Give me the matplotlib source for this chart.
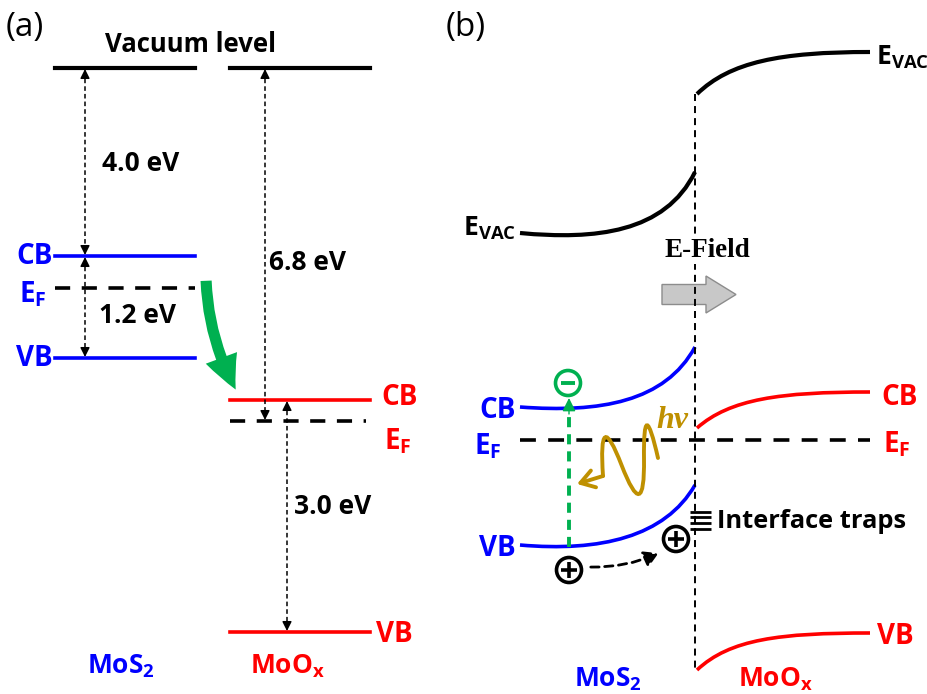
import numpy as np
import matplotlib
matplotlib.use("Agg")
import matplotlib.pyplot as plt
from matplotlib.path import Path
from matplotlib.patches import PathPatch, Circle, FancyArrow, FancyArrowPatch

plt.rcParams['font.family'] = ['Open Sans', 'DejaVu Sans']
plt.rcParams['mathtext.fontset'] = 'custom'
plt.rcParams['mathtext.rm'] = 'Open Sans'
plt.rcParams['mathtext.bf'] = 'Open Sans:bold'

BLUE = '#0000FF'
RED = '#FF0000'
GREEN = '#00B050'
GOLD = '#BF9000'

# ---- panel (a): flat-band levels (pixel rows of the schematic) ----
mos2_x = [55, 195]
moox_x = [230, 370]
mos2_vac, mos2_cb, mos2_ef, mos2_vb = 68, 256, 288, 358
moox_vac, moox_cb, moox_ef, moox_vb = 68, 400, 421, 632

gap_labels = ['4.0 eV', '1.2 eV', '6.8 eV', '3.0 eV']
gap_x = [85, 85, 265, 287]
gap_top = [mos2_vac, mos2_cb, moox_vac, moox_cb]
gap_bot = [mos2_cb, mos2_vb, moox_ef, moox_vb]
gap_text_xy = [(102, 163), (99, 315), (269, 262), (294, 507)]

# ---- panel (b): band bending, cubic bezier control points ----
x_if = 695
bands_b = {
    'mos2_vac': ([(520, 233), (595, 240), (665, 233), (695, 172)], 'black'),
    'moox_vac': ([(697, 94), (730, 62), (780, 52), (870, 52)], 'black'),
    'mos2_cb': ([(520, 407), (600, 413), (665, 402), (695, 347)], BLUE),
    'mos2_vb': ([(520, 545), (600, 552), (665, 537), (695, 485)], BLUE),
    'moox_cb': ([(697, 428), (730, 399), (780, 392), (870, 392)], RED),
    'moox_vb': ([(697, 670), (730, 639), (780, 633), (870, 633)], RED),
}
ef_b = [520, 870, 440]
trap_rows = [512, 517, 523, 529]
# photon squiggle control polygon (quadratic b-spline)
wave_ctrl = [(658, 458), (643, 392), (645, 526), (598, 404), (603, 476)]

fig = plt.figure(figsize=(9.28, 6.94), dpi=100)
ax = fig.add_axes([0, 0, 1, 1])
ax.set_xlim(0, 928)
ax.set_ylim(694, 0)
ax.axis('off')


def bez(pts, color, lw=2.6):
    p = Path(pts, [Path.MOVETO, Path.CURVE4, Path.CURVE4, Path.CURVE4])
    ax.add_patch(PathPatch(p, fill=False, edgecolor=color, lw=lw, capstyle='butt'))


def head(x, y, up):
    d = -8 if up else 8
    ax.annotate('', xy=(x, y), xytext=(x, y - d),
                arrowprops=dict(arrowstyle='-|>', color='k', lw=1, mutation_scale=14,
                                shrinkA=0, shrinkB=0))


# ================= panel (a) =================
ax.text(6, 27, '(a)', fontsize=24, va='center', ha='left')
ax.text(191, 44, 'Vacuum level', fontsize=18.5, fontweight='bold', ha='center', va='center')

ax.plot(mos2_x, [mos2_vac] * 2, color='k', lw=3)
ax.plot(moox_x, [moox_vac] * 2, color='k', lw=3)
ax.plot(mos2_x, [mos2_cb] * 2, color=BLUE, lw=2.6)
ax.plot(mos2_x, [mos2_vb] * 2, color=BLUE, lw=2.6)
ax.plot(mos2_x, [mos2_ef] * 2, color='k', lw=2.6, dashes=(4.2, 3.2))
ax.plot(moox_x, [moox_cb] * 2, color=RED, lw=2.6)
ax.plot(moox_x, [moox_vb] * 2, color=RED, lw=2.6)
ax.plot([230, 366], [moox_ef] * 2, color='k', lw=2.6, dashes=(4.2, 3.2))

for lab, gx, t, b, (tx, ty) in zip(gap_labels, gap_x, gap_top, gap_bot, gap_text_xy):
    ax.plot([gx, gx], [t + 3, b - 3], color='k', lw=1.1, dashes=(3, 2))
    head(gx, t + 1, True)
    head(gx, b - 1, False)
    ax.text(tx, ty, lab, fontsize=19, fontweight='bold', ha='left', va='center')

ax.text(53, mos2_cb, 'CB', color=BLUE, fontsize=20, fontweight='bold', ha='right', va='center')
ax.text(47, mos2_ef + 6, r'$\mathbf{E_F}$', color=BLUE, fontsize=20, ha='right', va='center')
ax.text(53, mos2_vb, 'VB', color=BLUE, fontsize=20, fontweight='bold', ha='right', va='center')
ax.text(381, moox_cb - 3, 'CB', color=RED, fontsize=20, fontweight='bold', ha='left', va='center')
ax.text(384, moox_ef + 20, r'$\mathbf{E_F}$', color=RED, fontsize=20, ha='left', va='center')
ax.text(376, moox_vb + 3, 'VB', color=RED, fontsize=20, fontweight='bold', ha='left', va='center')
ax.text(121, 666, r'$\mathbf{MoS_2}$', color=BLUE, fontsize=19, ha='center', va='center')
ax.text(288, 666, r'$\mathbf{MoO_x}$', color=RED, fontsize=19, ha='center', va='center')

ax.add_patch(FancyArrowPatch((206, 278), (237, 392), connectionstyle='arc3,rad=0.12',
                             arrowstyle='simple,head_width=2.4,head_length=2.5,tail_width=0.8',
                             mutation_scale=10, color=GREEN, lw=0))

# ================= panel (b) =================
ax.text(446, 27, '(b)', fontsize=24, va='center', ha='left')

for name, (pts, col) in bands_b.items():
    bez(pts, col, lw=3 if col == 'black' else 2.6)

ax.plot([ef_b[0], ef_b[1]], [ef_b[2]] * 2, color='k', lw=2.6, dashes=(4.4, 3.4), zorder=2)
ax.plot([x_if, x_if], [94, 668], color='k', lw=1.4, dashes=(3.6, 2.6), zorder=4)

ax.text(516, 228, r'$\mathbf{E_{VAC}}$', fontsize=19, ha='right', va='center')
ax.text(876, 57, r'$\mathbf{E_{VAC}}$', fontsize=19, ha='left', va='center')
ax.text(516, 410, 'CB', color=BLUE, fontsize=20, fontweight='bold', ha='right', va='center')
ax.text(502, 446, r'$\mathbf{E_F}$', color=BLUE, fontsize=20, ha='right', va='center')
ax.text(516, 549, 'VB', color=BLUE, fontsize=20, fontweight='bold', ha='right', va='center')
ax.text(881, 397, 'CB', color=RED, fontsize=20, fontweight='bold', ha='left', va='center')
ax.text(883, 444, r'$\mathbf{E_F}$', color=RED, fontsize=20, ha='left', va='center')
ax.text(877, 637, 'VB', color=RED, fontsize=20, fontweight='bold', ha='left', va='center')
ax.text(608, 679, r'$\mathbf{MoS_2}$', color=BLUE, fontsize=19, ha='center', va='center')
ax.text(776, 679, r'$\mathbf{MoO_x}$', color=RED, fontsize=19, ha='center', va='center')

ax.text(707, 250, 'E-Field', fontsize=19.5, fontweight='bold', family='Liberation Serif',
        ha='center', va='center', zorder=6,
        bbox=dict(facecolor='white', edgecolor='none', pad=1))
ax.add_patch(FancyArrow(662, 294.5, 44, 0, width=20, head_width=37, head_length=30,
                        length_includes_head=False, facecolor='#C8C8C8',
                        edgecolor='#8C8C8C', lw=1, zorder=3))

# photo-excitation
ax.plot([569, 569], [547, 414], color=GREEN, lw=2.8, dashes=(2.6, 1.8), zorder=5)
ax.annotate('', xy=(569, 398), xytext=(569, 414),
            arrowprops=dict(arrowstyle='-|>', color=GREEN, lw=1, mutation_scale=20,
                            shrinkA=0, shrinkB=0), zorder=5)
ax.add_patch(Circle((568, 383), 12.5, facecolor='white', edgecolor=GREEN, lw=2.6, zorder=6))
ax.plot([561, 575], [383, 383], color=GREEN, lw=2.8, solid_capstyle='butt', zorder=7)

for cx, cy in [(569, 570), (676, 539)]:
    ax.add_patch(Circle((cx, cy), 12.5, facecolor='white', edgecolor='k', lw=2.6, zorder=6))
    ax.plot([cx - 8, cx + 8], [cy, cy], color='k', lw=2.6, solid_capstyle='butt', zorder=7)
    ax.plot([cx, cx], [cy - 8, cy + 8], color='k', lw=2.6, solid_capstyle='butt', zorder=7)

ax.add_patch(FancyArrowPatch((588, 567), (661, 552), connectionstyle='arc3,rad=0.12',
                             arrowstyle='-|>,head_width=0.35,head_length=0.6', mutation_scale=14,
                             color='k', lw=2, linestyle=(0, (3, 2)), zorder=5))

# photon hv: quadratic b-spline through midpoints of the control polygon
verts = [wave_ctrl[0]]
codes = [Path.MOVETO]
for i in range(1, len(wave_ctrl) - 2):
    mid = ((wave_ctrl[i][0] + wave_ctrl[i + 1][0]) / 2, (wave_ctrl[i][1] + wave_ctrl[i + 1][1]) / 2)
    verts += [wave_ctrl[i], mid]
    codes += [Path.CURVE3, Path.CURVE3]
verts += [wave_ctrl[-2], wave_ctrl[-1]]
codes += [Path.CURVE3, Path.CURVE3]
ax.add_patch(PathPatch(Path(verts, codes), fill=False, edgecolor=GOLD, lw=2.8,
                       capstyle='round', zorder=5))
ax.annotate('', xy=(577, 484), xytext=wave_ctrl[-1],
            arrowprops=dict(arrowstyle='->,head_width=0.45,head_length=0.7', color=GOLD, lw=2.8,
                            mutation_scale=14, shrinkA=0, shrinkB=0), zorder=5)
ax.text(672, 420, 'hv', color=GOLD, fontsize=23, fontweight='bold', fontstyle='italic',
        family='Liberation Serif', ha='center', va='center')

# interface traps
for ty in trap_rows:
    ax.plot([690, 711], [ty, ty], color='k', lw=2, solid_capstyle='butt', zorder=6)
ax.text(717, 521, 'Interface traps', fontsize=18.3, fontweight='bold', ha='left', va='center')

fig.savefig('out.png', dpi=100)
